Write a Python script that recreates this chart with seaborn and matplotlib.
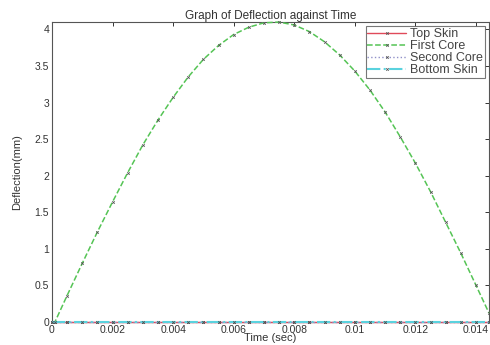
import numpy as np
import pandas as pd
import matplotlib
matplotlib.use("Agg")
import matplotlib.pyplot as plt
import seaborn as sns
from matplotlib.ticker import FormatStrFormatter, MultipleLocator

# Time samples (sec) and deflections (mm)
time_sec = [0.0, 0.0001, 0.0005, 0.001, 0.0015, 0.002, 0.0025, 0.003, 0.0035,
            0.004, 0.0045, 0.005, 0.0055, 0.006, 0.0065, 0.007, 0.0075,
            0.008, 0.0085, 0.009, 0.0095, 0.010, 0.0105, 0.011, 0.0115,
            0.012, 0.0125, 0.013, 0.0135, 0.014, 0.01443]
first_core = [0.0, 0.0, 0.36, 0.80, 1.23, 1.64, 2.04, 2.42, 2.76,
              3.07, 3.35, 3.59, 3.78, 3.93, 4.03, 4.09, 4.10,
              4.06, 3.97, 3.83, 3.65, 3.43, 3.17, 2.87, 2.53,
              2.17, 1.78, 1.36, 0.94, 0.50, 0.12]
top_skin = [0.0] * len(time_sec)
second_core = [0.0] * len(time_sec)
bottom_skin = [0.0] * len(time_sec)

series_names = ["Top Skin", "First Core", "Second Core", "Bottom Skin"]
series_values = [top_skin, first_core, second_core, bottom_skin]

df = pd.DataFrame({"Time": time_sec})
for name, vals in zip(series_names, series_values):
    df[name] = vals

styles = {
    "Top Skin": dict(color="#e04a5a", linestyle="-", linewidth=1.0),
    "First Core": dict(color="#55c455", linestyle="--", linewidth=1.1),
    "Second Core": dict(color="#9090c8", linestyle=":", linewidth=1.0),
    "Bottom Skin": dict(color="#5ad2de", linestyle="-.", linewidth=1.5),
}

sns.set_style("white")
plt.rcParams["font.family"] = ["Liberation Sans", "DejaVu Sans"]

fig = plt.figure(figsize=(4.9, 3.45), dpi=100)
ax = fig.add_axes([0.106, 0.067, 0.892, 0.869])

for name in series_names:
    st = styles[name]
    sns.lineplot(data=df, x="Time", y=name, ax=ax, label=name,
                 marker="x", markersize=1.8, markeredgewidth=0.6,
                 markeredgecolor="#555555", clip_on=False, zorder=5, **st)

ax.set_xlim(0, 0.01443)
ax.set_ylim(0, 4.1)
ax.xaxis.set_major_locator(MultipleLocator(0.002))
ax.yaxis.set_major_locator(MultipleLocator(0.5))
ax.xaxis.set_major_formatter(FormatStrFormatter("%g"))
ax.yaxis.set_major_formatter(FormatStrFormatter("%g"))
ax.tick_params(direction="in", length=3, width=0.7, labelsize=7.5,
               colors="#333333", top=True, right=True, pad=2)
for sp in ax.spines.values():
    sp.set_color("#555555")
    sp.set_linewidth(0.8)

ax.set_title("Graph of Deflection against Time", fontsize=8.5, pad=2,
             color="#333333")
ax.set_xlabel("Time (sec)", fontsize=8, labelpad=-1, color="#333333")
ax.set_ylabel("Deflection(mm)", fontsize=8, labelpad=9, color="#333333",
              family=["Liberation Sans Narrow", "Liberation Sans"])

leg = ax.legend(loc="upper right", fontsize=9, frameon=True, fancybox=False,
                borderpad=0.15, labelspacing=0.0, handlelength=3.1,
                handletextpad=0.3, borderaxespad=0.35, numpoints=1)
leg.get_frame().set_edgecolor("#555555")
leg.get_frame().set_linewidth(0.8)
for txt in leg.get_texts():
    txt.set_color("#444444")

fig.savefig("out.png", dpi=100)
